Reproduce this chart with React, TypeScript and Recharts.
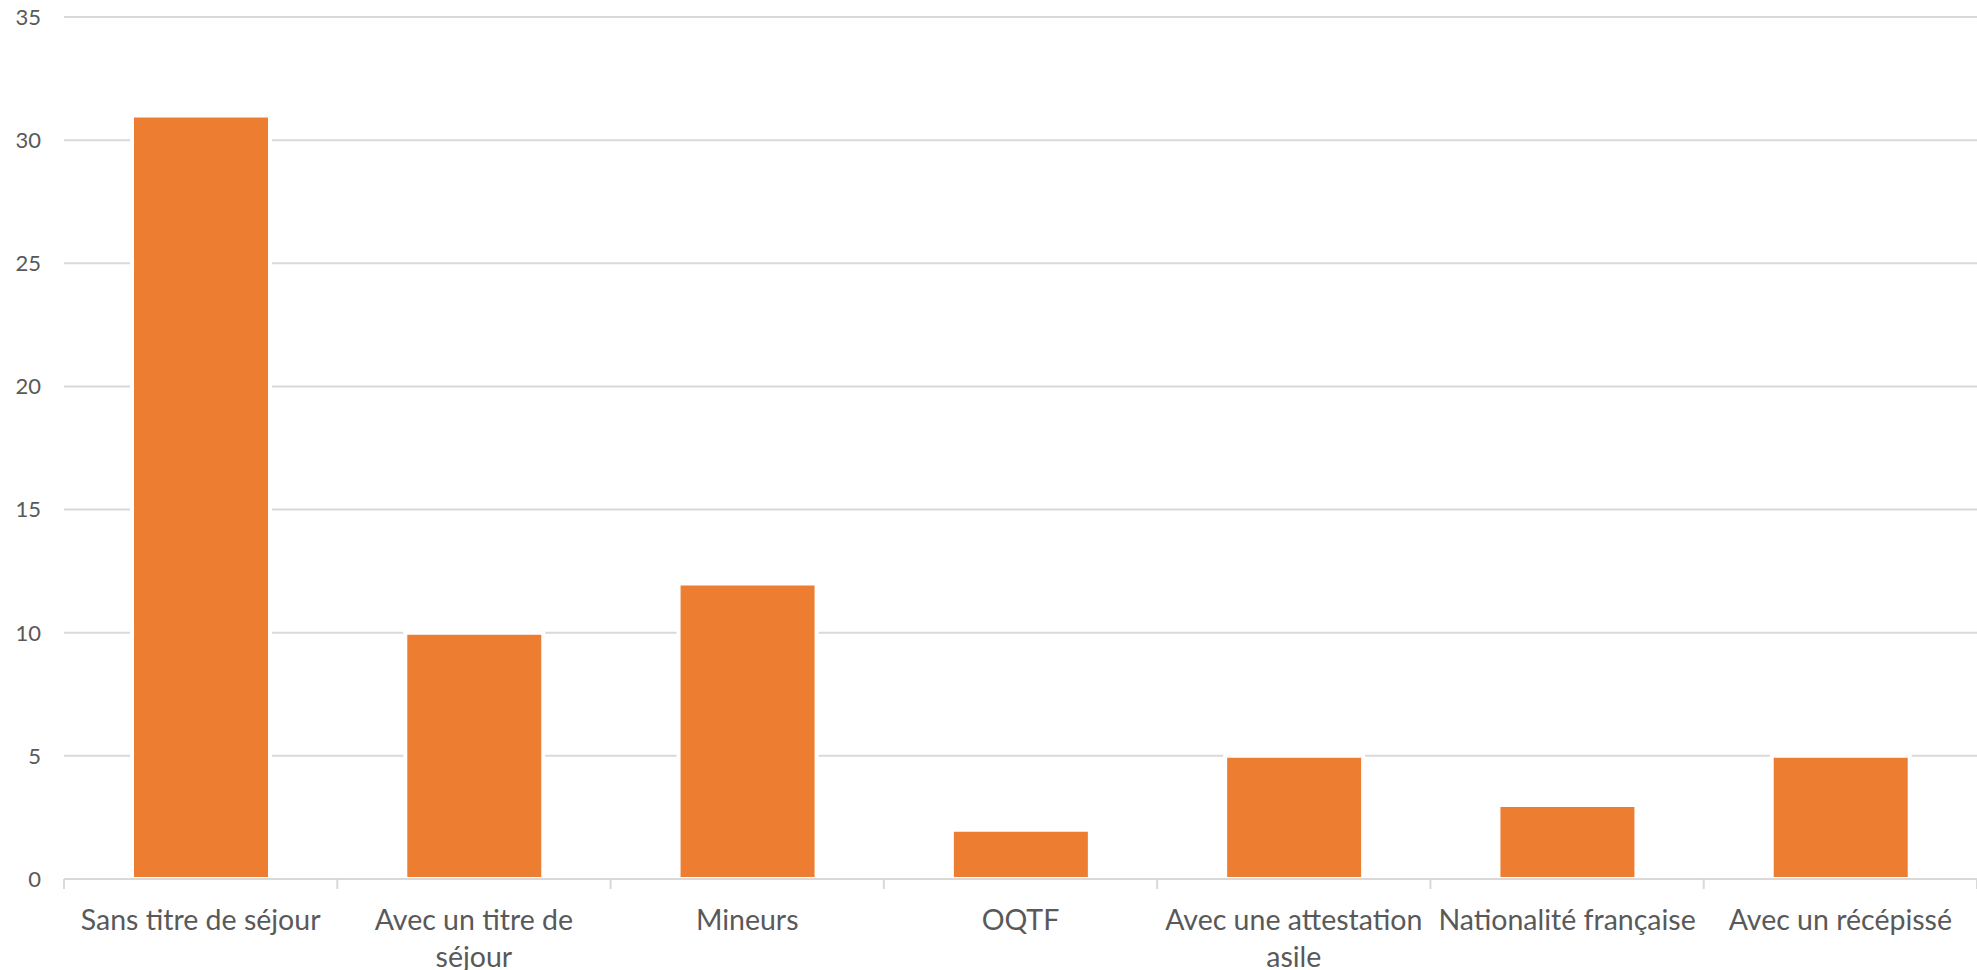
import React from "react";
import { BarChart, Bar, XAxis, YAxis, CartesianGrid } from "recharts";

const categories = [
  "Sans titre de séjour",
  "Avec un titre de séjour",
  "Mineurs",
  "OQTF",
  "Avec une attestation asile",
  "Nationalité française",
  "Avec un récépissé",
];
const values = [31, 10, 12, 2, 5, 3, 5];
const yTicks = [0, 5, 10, 15, 20, 25, 30, 35];

// bars sit in the middle of each category slot on a numeric axis,
// so the small tick marks can go on the slot boundaries like in Excel
const data = categories.map((name, i) => ({ name, pos: i + 0.5, value: values[i] }));
const xTicks: number[] = [];
for (let i = 0; i <= categories.length; i++) {
  xTicks.push(i);
  if (i < categories.length) xTicks.push(i + 0.5);
}

const FONT = "Lato, 'Open Sans', sans-serif";
const TEXT = "#595959";
const GRID = "#d9d9d9";

const wrap = (label: string, maxChars = 21) => {
  const lines: string[] = [];
  let cur = "";
  label.split(" ").forEach((w) => {
    const next = cur ? cur + " " + w : w;
    if (next.length > maxChars && cur) {
      lines.push(cur);
      cur = w;
    } else cur = next;
  });
  if (cur) lines.push(cur);
  return lines;
};

const CategoryTick = (props: any) => {
  const { x, y, payload } = props;
  const v = payload.value as number;
  if (Number.isInteger(v)) {
    return <line x1={x} y1={y} x2={x} y2={y + 10} stroke={GRID} strokeWidth={2} />;
  }
  const lines = wrap(categories[Math.floor(v)]);
  return (
    <text x={x} y={y + 51} textAnchor="middle" fill={TEXT} fontSize={28.5} fontFamily={FONT}>
      {lines.map((l, i) => (
        <tspan key={i} x={x} dy={i === 0 ? 0 : 37}>
          {l}
        </tspan>
      ))}
    </text>
  );
};

export default function App() {
  return (
    <div style={{ width: 1977, height: 970, fontFamily: FONT }}>
      <style>{`body{margin:0}`}</style>
      <BarChart width={1977} height={970} data={data} margin={{ top: 17, right: 0, left: 0, bottom: 0 }}>
        <CartesianGrid vertical={false} stroke={GRID} strokeWidth={2} />
        <XAxis
          dataKey="pos"
          type="number"
          domain={[0, categories.length]}
          ticks={xTicks}
          interval={0}
          tickLine={false}
          tickSize={0}
          tickMargin={0}
          axisLine={{ stroke: GRID, strokeWidth: 2 }}
          height={91}
          tick={<CategoryTick />}
        />
        <YAxis
          domain={[0, 35]}
          ticks={yTicks}
          interval={0}
          axisLine={false}
          tickLine={false}
          tickSize={0}
          tickMargin={23}
          width={64}
          tick={{ fill: TEXT, fontSize: 22, fontFamily: FONT }}
        />
        <Bar dataKey="value" fill="#ED7D31" stroke="#ffffff" strokeWidth={4} barSize={138} isAnimationActive={false} />
      </BarChart>
    </div>
  );
}
